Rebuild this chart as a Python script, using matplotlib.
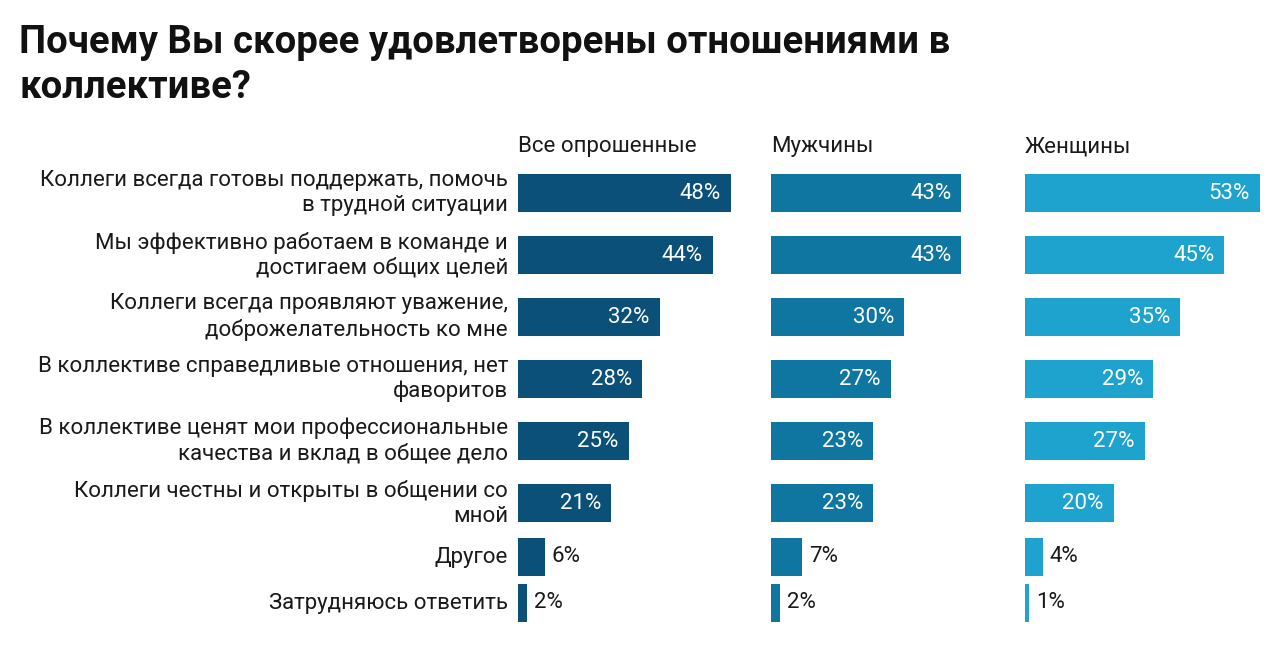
import matplotlib.pyplot as plt

plt.rcParams['font.family'] = ['Roboto', 'DejaVu Sans']

# Data
categories = [
    "Коллеги всегда готовы поддержать, помочь\nв трудной ситуации",
    "Мы эффективно работаем в команде и\nдостигаем общих целей",
    "Коллеги всегда проявляют уважение,\nдоброжелательность ко мне",
    "В коллективе справедливые отношения, нет\nфаворитов",
    "В коллективе ценят мои профессиональные\nкачества и вклад в общее дело",
    "Коллеги честны и открыты в общении со\nмной",
    "Другое",
    "Затрудняюсь ответить",
]
groups = ["Все опрошенные", "Мужчины", "Женщины"]
all_resp = [48, 44, 32, 28, 25, 21, 6, 2]
men = [43, 43, 30, 27, 23, 23, 7, 2]
women = [53, 45, 35, 29, 27, 20, 4, 1]
series = [all_resp, men, women]
colors = ["#0a5078", "#0e76a0", "#1ea3cf"]

W, H = 1280, 659
fig = plt.figure(figsize=(W / 100, H / 100), dpi=100)

# Title
fig.text(19 / W, 1 - 53 / H, "Почему Вы скорее удовлетворены отношениями в",
         fontsize=27.5, fontweight="bold", color="#111111", va="baseline")
fig.text(19 / W, 1 - 98 / H, "коллективе?",
         fontsize=27.5, fontweight="bold", color="#111111", va="baseline")

# row layout in pixels (two-line rows taller than single-line ones)
row_h = [62 if "\n" in c else 46 for c in categories]
centers = [193]
for i in range(1, len(categories)):
    centers.append(centers[-1] + (row_h[i - 1] + row_h[i]) / 2)

px_per_pct = 4.43
panel_x = [518, 771, 1025]
panel_w = 250
top, bottom = 160, 640
fs = 16

for k, (vals, col, name) in enumerate(zip(series, colors, groups)):
    ax = fig.add_axes([panel_x[k] / W, 1 - bottom / H, panel_w / W, (bottom - top) / H])
    ax.set_xlim(0, panel_w / px_per_pct)
    ax.set_ylim(bottom, top)
    ax.barh(centers, vals, height=38, color=col)
    ax.axis("off")
    for y, v in zip(centers, vals):
        if v >= 15:
            ax.text(v - 10 / px_per_pct, y, f"{v}%", ha="right", va="center",
                    fontsize=fs, color="white")
        else:
            ax.text(v + 7 / px_per_pct, y, f"{v}%", ha="left", va="center",
                    fontsize=fs, color="#1a1a1a")
    fig.text(panel_x[k] / W, 1 - 152 / H, name, fontsize=fs, color="#1a1a1a",
             va="baseline")

# category labels
for y, c in zip(centers, categories):
    fig.text(508 / W, 1 - y / H, c, ha="right", va="center", fontsize=fs,
             color="#1a1a1a", linespacing=1.25)

fig.savefig("out.png", dpi=100, facecolor="white")
